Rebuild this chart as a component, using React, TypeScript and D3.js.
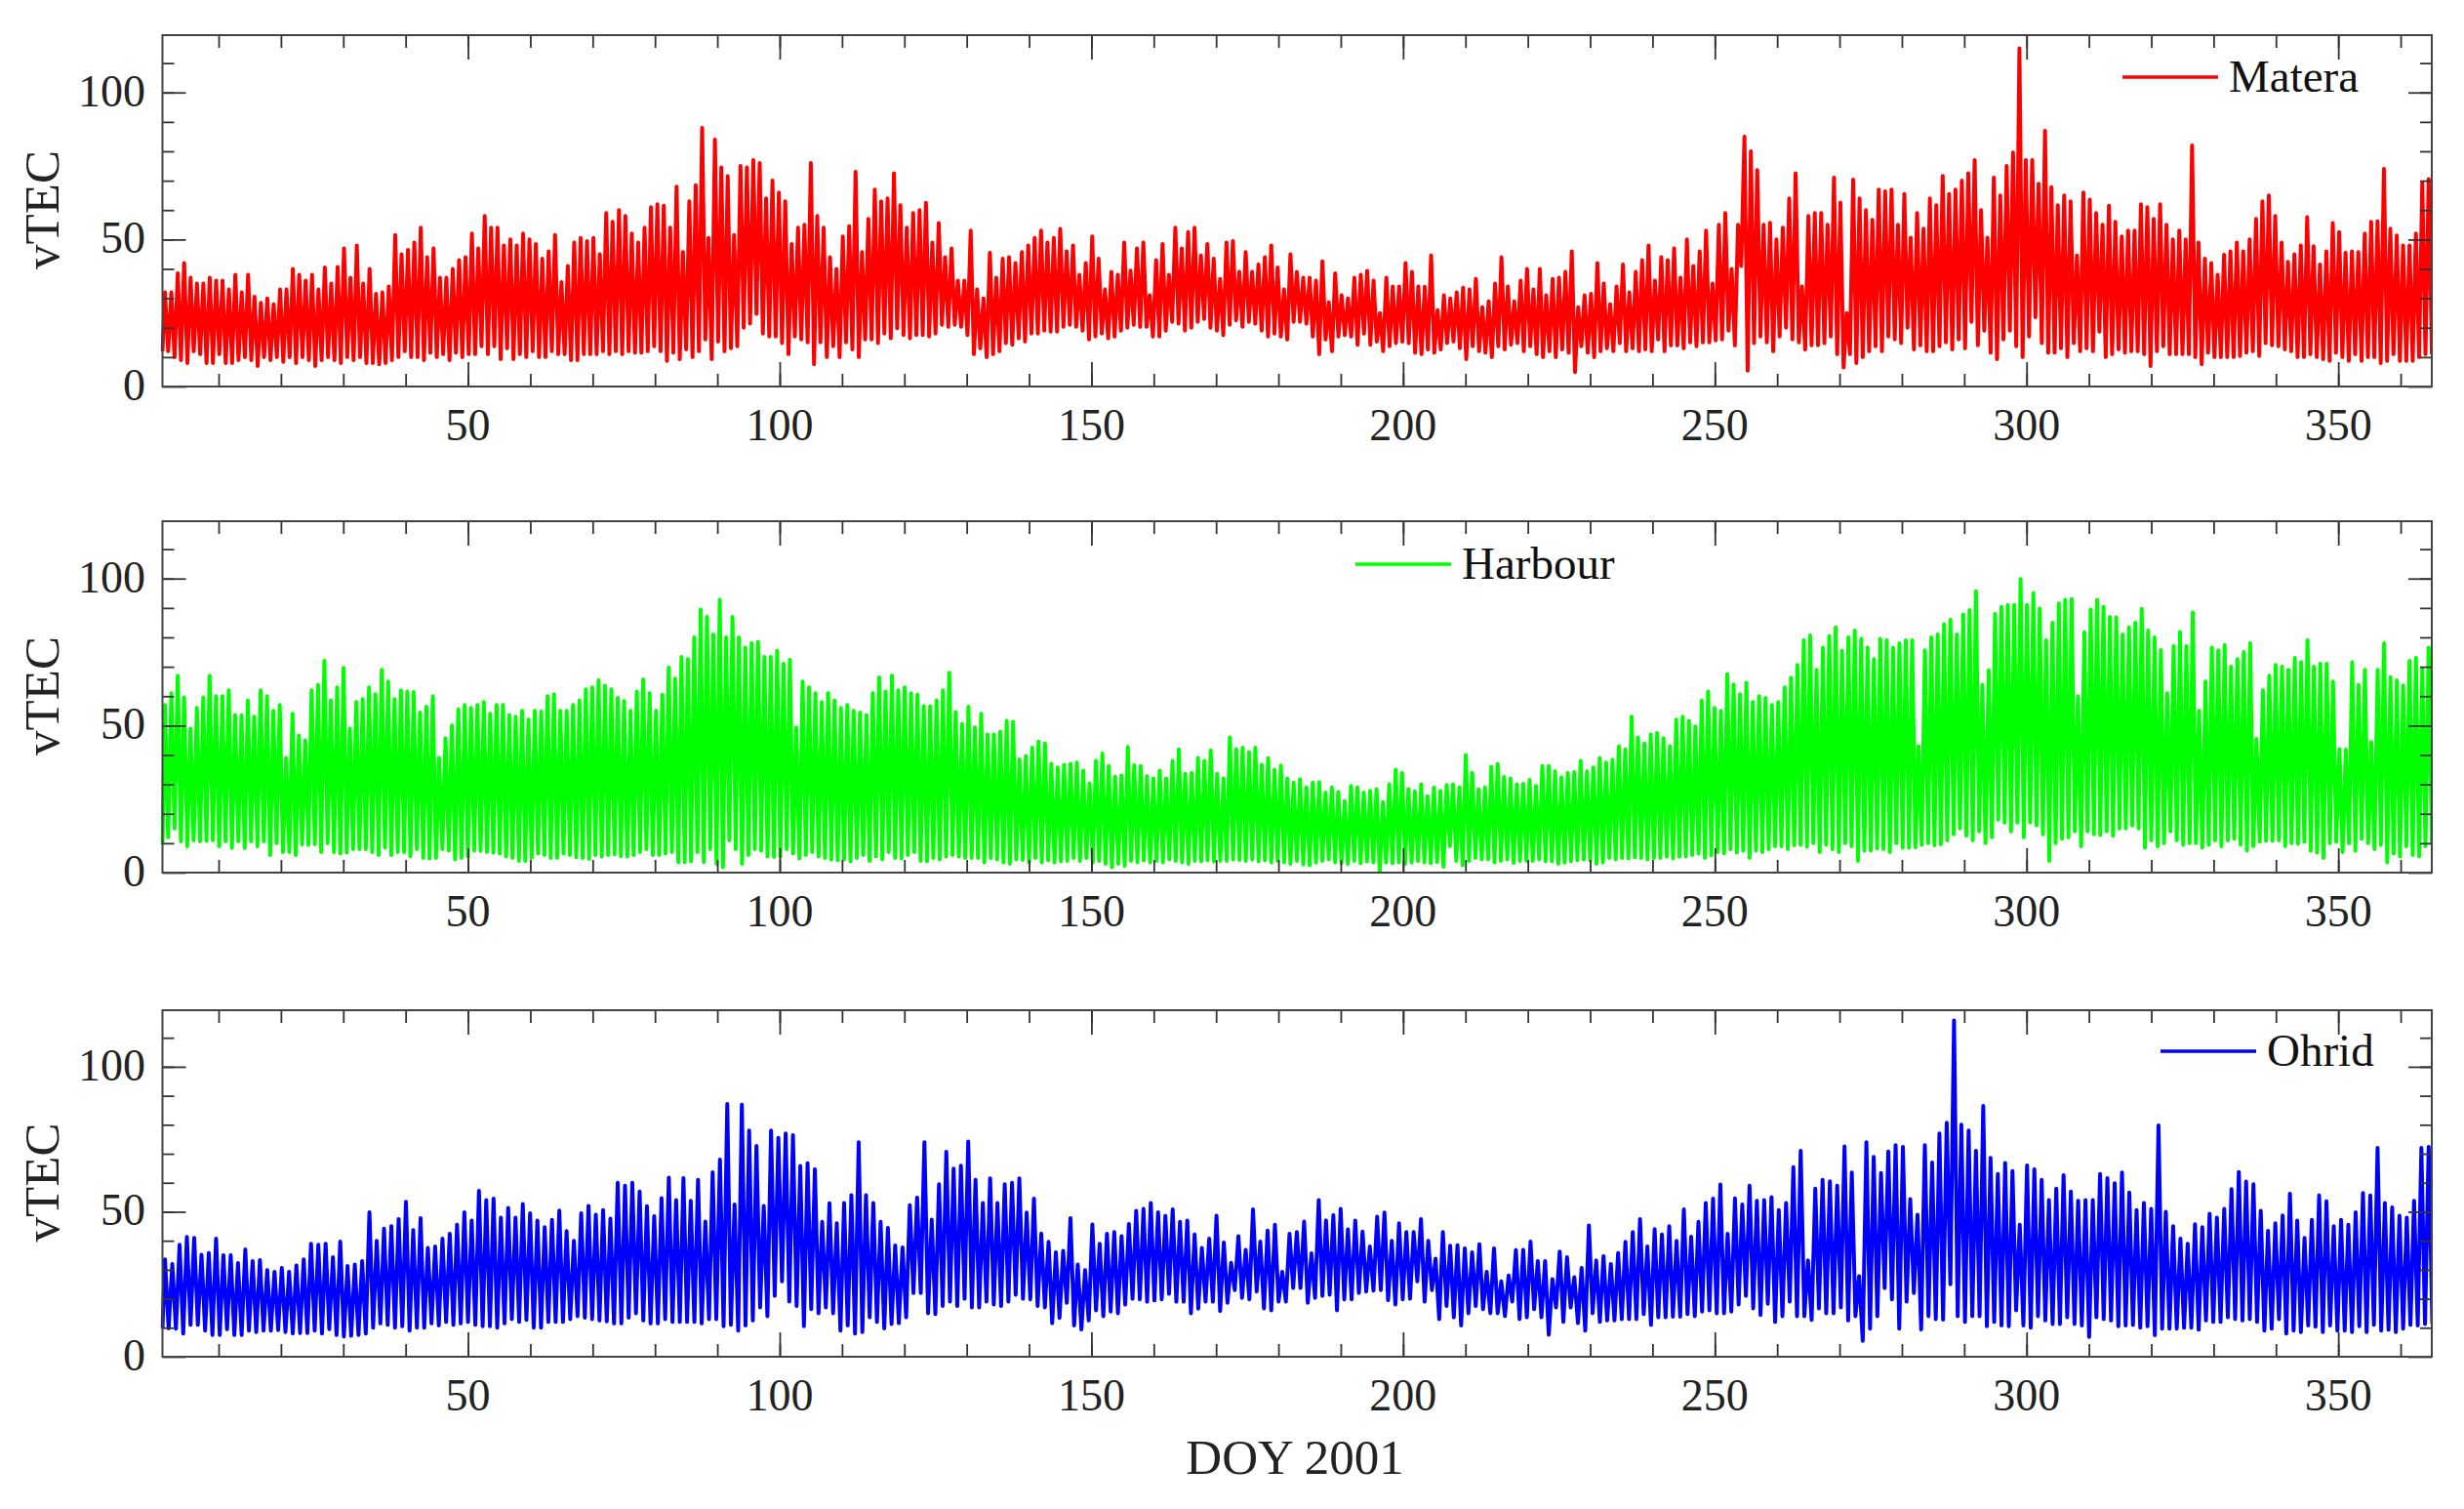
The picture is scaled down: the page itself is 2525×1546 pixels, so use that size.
import * as React from "react";
import * as d3 from "d3";

// daily maxima / minima, in time order
const materaPeaks = [
  32,32,38.5,42,37,35,35,37,36,36,33,38,32,38,30.5,28.5,30,28,33,33,40,38,36,38,33,40.5,35,40.7,47,37,48,35,40,31.5,32,34,51.5,45,46.5,49,54,44,47,37,37,40,43,44,52,47,58,54,54,48,50,48,52,50,48.5,43.5,46,51.5,35.5,41,49,50.5,49.5,50.5,45,59,56,60,58,52,49,54,61,62,61.5,54,68,45.7,63,68.5,88,50.5,84,74.5,71.5,51.5,75,74.5,77,76,64,70,66,63,48.5,54,55,76,58,54,44,40,
  51,54.5,73,45.7,57,67,63,64,72.5,61.7,54,59,60,62.5,49,55.6,44,47,36,36,53,33,30,45.5,37,43.5,44,42,45.7,48,50.5,53,49,50.5,53.6,46,48,38,42,51,43.5,33,39,38,49,39.4,47,49,31,43,48.5,38,54,47,52.5,54,44.6,48.5,43.5,36.6,49,49.5,39,45.7,39,41.5,44,48,40.5,33,45,39,37,37,36,42.6,28.6,38.5,31,30,37,38,39.3,36,25,37,34,34,42,39,34,33.9,44.6,26,31,30,32,33.6,33,36.6,27,29,35,44,34,29,36,40,33,40,31,36.6,37,39,46,27,31,31.5,42,35,28,34,41.5,32,39,43,
  48,36,44,43,47,37,50,41,46,53,35,55,59,40,55,85,80,73.6,55,55.7,50,54,64,72.5,34,58,59,59,55,71,62.6,25,70.4,64,60,56.7,67,66.4,67,55,65.5,50.6,59,53.7,64,61.7,71.6,65.5,67,70,72.5,77,60,50.6,71,65,75,79.6,115,77,77,69,87,67.8,61.7,65,63,44.6,66,63.6,59,55,61.5,56,51,53,53,62,61,57,62,55,50,53,50,82,49,43.5,42,38,44.8,46,49,46,50,57,63,65,58,49,42.4,45,48,57.6,47.7,41.5,46,55.6,52.5,45.5,46,45.7,52,56,56.2,74,53.7,51.4,48,48,52,69.4,70.5,
];
const materaLows = [
  12,10,9,8,12,11,8,8,11,8,8,9,10,9,7,10,9,10,8.4,10,8,10,9,7,9,10,9,8,10,9,10,8,8,7.6,8,9,10,12,10,10,9,11.5,10,11,9,11.5,10,11,11,13.7,11,13.7,9.3,13,9.3,11,10,12,10,12,11,11,9,9,11,11,11,12,11,12,11,12,11.5,11.5,12,13.7,12,8.7,11.5,9.3,12.6,10,12,16,9.3,15.3,12,13,13.7,20,21.4,24.7,18,17,17,14.8,11,17,16,15,7.6,15,10,13.7,10,15,12.6,
  10,16,16,14.8,18,16.4,19.8,17.5,16.4,17.5,17,18,21,20.3,21,20.3,17.5,11,13,10,11,12,14.8,14.2,16.4,15.3,18,18,19,18.7,18.7,20.3,21,20.3,19,16,17,18,16.4,17,19,20,21,20.3,20.3,17,17,19,22,21.4,19,20,22,23,20,19,17.5,21,22.5,20.3,22,21.4,19,17,18,17,16,22,21.4,17,11,16,12,17,17.5,17,14.2,18,14.2,15.3,12,13.7,14.8,15.3,14.8,11.5,11,12.6,11.5,12.6,14.8,15.3,13,9.3,13.7,12,11.5,10,13.7,12.6,14.2,14.8,12,13.7,11,10,12,10,12.6,11.5,4.9,13.7,11.5,10,12,13,12,14.8,12,
  13,12,12.6,12,16,12,14,13,15,13.7,15,15,15.7,16,19,14,41,5.4,14.8,17,15,12,17,20,16,15,12.6,14,14,14.8,17,11,6.5,11,8,10,12,13.7,12,17,16,14.8,20,12.6,14,12,12,13.7,15,12.6,16,13,22,14,19,11.5,9.3,16,19,13.7,10,17,23.6,14.8,11.5,13,10,14.8,12,13,12,18.7,10,11,12.6,11.5,12,12,11,7,12,13.7,11,11,11,11,10,7.6,11.5,10,10,10,10,10.4,11.5,12,10.4,14.8,14,13.7,12.6,12,10,10,11,10,9.3,8.7,11.5,10,8.7,11,8.7,10,10,8,8.7,11,8.7,8.7,8.7,10,11,
];

const harbourPeaks = [
  57,61,67,59.6,49,56,59.6,67,60,60,62,53.6,53.5,58.5,53,62,60,55,57,39,54,46.6,45,62,63.8,72,58.6,63,69.6,49,58,59,63,60.7,69,65,59,62,61.6,61.4,54.4,56.4,60,39,45.7,50,55.5,57,56,57,58,54,57,57,53.6,53,55,52,55,54.8,60,60.7,55,55,57,58.5,62.3,63,65.4,63.6,62.3,59.4,58.3,55,61.6,65.7,61,55,60.5,69.7,66,73.4,72.6,80,89.5,87,81,92.8,80,87,80,76.5,78,78.5,73.4,73.4,75.4,71,72.4,49.4,65,63,61,58,
  61,58.5,56,57,55,54.4,53.6,61,66.4,61.6,67,62,63,61,60.5,56.6,56.6,58.6,62,68,54.6,50.5,56.4,49.4,54,47,47,48,51.6,51.3,38.5,39.6,42.5,44.6,43.9,37,35.8,36.7,37,37.4,34.7,30.3,38,40.5,36.3,32.6,33,42.7,36.5,36.3,32.8,32,34.7,32,38,41.9,33.6,33.9,39,38,41.6,33.6,32,46,42,42.5,41,42.5,36.7,38.9,35,36.4,32,30.6,31.7,29,30.6,30.8,27.2,29,27.5,24.3,29.5,29,27.2,27.8,28.4,24,30,35,33.9,28.4,27.6,30,26,29,27.8,29.8,30,29,40,33.9,28.4,29,36,36.9,32.5,32,30,30.2,31.5,29.5,36.3,36.3,34.4,32.4,33.9,34.2,38,34.4,35.8,38.9,37.4,38.3,43,41.9,53,46,43.9,47,47.5,
  45.7,43,52,53,51.6,49.7,58.5,61.6,56,55,67.5,64,60.7,64.6,58,60,59.4,57,58,63,66.3,70.6,79,80.7,69,76.5,80.4,83.4,75.4,80,82.3,79.5,76.5,72.6,79.5,79,76.5,78,79,79,43,75.6,80,81,84.5,86,81,87.8,89.3,95.7,63.8,68.8,88,90.4,91,91,99.8,91,95,89.8,79,85,91.5,92.8,93,60,81.7,89.5,92.8,90.4,87,86.8,81,83.4,85,89.7,82.3,80,75.7,61,77,81.8,77,88.5,55,65,76.5,75.6,77.4,70,72.6,75,78,45.5,62,67,70.6,70,69,73,71.5,79,70,71,71,65,42,41.8,71.5,63.8,69,44.4,69,78,66.5,65.4,63.6,72,73,69.3,76.5,
];
const harbourLows = [
  9.5,12,15,10.6,9,11,10.6,10.8,11,9,10.6,8.4,10.6,8.4,10.6,9,10.6,6,10,7,7,6,9.6,9.4,9.6,7,10,7,6.5,6.8,8,8,8,7,6,8.5,6,7,7,5.6,3.4,8,5,4.8,5,8,7.5,4.5,5,5.5,7.5,7.4,7,6.8,6.5,5.5,5,4,4,5,6.5,6,5,5,6.5,6,5.2,5,4.7,6,5.5,6,6.2,5.6,5.5,6,7,8,6,6,6.5,6.3,7,3.5,3.6,3.8,7,3.6,8,3,1.8,11,8,3,6,8,7.5,5.5,5.3,5.5,8,6.5,4.8,6,7,5.5,5,4.5,4.2,4.5,
  3.8,5,6,4,5.5,4.5,7,5,4.8,6,7,5.5,4,3.8,5,4.5,5.5,6,5.5,5,5,5,3.5,5,4.5,3.5,3,4.5,4.3,3.5,5,3.5,4.2,3.5,3.8,4,5,4,5,3.5,4,3,1.8,3,2.3,4,3.5,4.2,3.5,4,3.5,4.5,4,4,3.5,3,4,3.8,4.2,3.8,4,4,4.5,4.3,4,4.5,3.8,4.2,3.5,4,3.5,3,4,2.8,2.5,3.4,4,4.5,3.5,3.2,3,4,3.2,3.8,3.5,0.2,3.5,3.2,3.5,3,
  3.4,4,3.5,3.5,3.2,3.6,2,9,4,2.5,4,5,4.5,4.5,3.5,4,4.5,3.3,4,4,4,4.5,3.8,3.8,3,3.4,3.8,4.2,4.5,4.2,3,3.5,5,4.5,5,4.8,5.2,5,4.5,5,5,5.5,4.8,5,5.4,5.5,6,6.5,5,5.8,7,6.5,8,6.8,7.5,5,7.5,7,8,9,9,8,9.3,9.5,8.8,10,7,9.5,8,7,10,9,4,7.5,7.5,8.2,8,7,10,8.5,8.5,8.6,9.5,9.2,10,9.3,9.6,11,13,15,12.5,11,14,10,12,18,17,14,17,12,
  17,16,13,4,10,11.5,12,14,9,14,13,12.8,14,12.5,15,15,16,15,8.5,11,9,10,14,11,8.5,9.5,10,10,8.5,9.5,11,9,11,11.5,9.5,7.5,9,10.5,10.8,10.8,11,9,10,9.8,10.5,7.5,6.8,5,10,10.5,7,10,7.5,11.5,10,8,9.5,3.5,6.5,5.5,9,6,5.5,9,9.5,
];

const ohridPeaks = [
  33.6,32,38.6,41.3,41,35.2,35.8,40.7,35,35,32.3,37,33,33.3,29.9,29.3,30.6,29.3,31.5,33.6,39,38.6,39,34.3,39.7,31.3,31.8,33,49.8,40,44.2,45,47.5,53.4,43.7,47.8,37.5,38,40.7,42.4,45.5,49.8,47,57.2,54,54.5,48,51.3,48,52.7,49.5,47,44.7,47.2,50.4,43.3,40,49.5,52,49,50.6,47.6,60,59,60,57,51.9,48.5,54.7,61.8,54,61.6,53.8,61,46.6,63.6,68,87.2,52.5,86.9,78,72.7,52,78,75.5,77,76.4,65.8,66.7,64.6,46.5,52.9,
  46,53,55.7,74,55.7,53,46.5,44.4,38.4,37.7,52.3,54.9,74,47.3,59.5,70.7,64.9,65.9,74.2,61,53,61.5,53,59.5,60,61.5,49.7,54.5,42.5,39.6,36,36.5,47.8,31.8,29.9,45.6,39,42.4,43,41.6,45.8,50.3,51,53,49.8,48.6,50.8,46.5,47,42.2,37.5,40.7,48.6,39.4,32.4,41.6,36.9,50.8,39.7,43.5,45.5,29.3,42.4,43,46.6,35.7,54,47,48.8,51,43.9,47,43.2,38,48.3,49.7,40,46,43,43,47.5,40,33.8,43,38.3,38.5,37.4,36,38.8,29.3,37.4,26,28,36.8,36.9,39.7,33,33,26.8,36.3,34.3,27.4,30.6,45.3,33.2,34.7,32,35.8,39.6,43,47.5,38,
  44,42.2,45,40,50.8,41.4,46.5,53,54.5,59.4,42.4,54.6,52.5,59,53.8,54,55,50.6,53,65.4,71,33.2,58,61,60.5,59,72.5,63.5,27.8,74,68.9,63.4,70.8,73,72.4,54.4,49,73,67,77,80.7,116,80,78,71,86.5,68.6,63,66.8,64,45.5,66,64.6,61,54,58,62.6,57,53.8,54,54,63,61.6,59.8,63.5,56.6,50.6,53,51,79.8,50,45,40.7,39,45.7,44.7,49.3,48,51,57.8,63.7,60.4,59.5,50.3,43.4,46,48.7,56.2,47,41,47.2,55.6,53.6,45,47.2,45.5,49.8,56.5,55.6,72,53,51.5,48.6,48,53.8,72,72.4,
];
const ohridLows = [
  9.8,9.7,8,11,11,9,7.5,7.5,9.5,7.5,7.5,9,8.5,9,9,9.2,8.5,8,8.2,8.2,9,8,9.5,7.5,7,7.2,7.5,8,10,11.5,11,10,10.5,9,10,10,11.5,10.8,12,11,11.5,12,11,10.5,10.5,10,11.5,13,12,12.7,10,12,12,12,13,14,13.5,13,12.5,12.2,11.5,11.5,13.5,15,12.5,11.5,11.5,13,12,12,12,12,11.5,13,13,10.5,11,9,10.8,12.5,17,14,21,26,19,17.5,10.5,16.4,15,
  17,15,9,10.8,8,8.5,13.6,12,9.8,11.3,11.6,13.6,22,15,14.7,17.5,19,17.5,20,17,17,19,18,17.5,19,21.4,20,19.8,17.5,17,11.6,13.4,18.6,10.8,9.4,12.5,16,14,15.6,15,18,20,19.8,19,19.4,19.8,21.7,19,19,15,16.6,19,19,15.8,18.6,23,20.3,19.8,22.5,16.7,16,19,19,23.7,18.6,20.3,21,21.4,16,19.8,19.8,22,22.5,22.8,23,19.5,18,19.8,20,26,19,23,13,17.5,13.6,10.8,15,17.5,16.4,15,15,14,19,13,13.6,16.4,13.6,7.6,17,12,17,11.6,9,15,12,12.5,12.5,13,13,
  13,14.7,11,13.6,13.6,13.8,14.7,14,15.6,16,15,15,15.6,18,21,16.7,14.4,18.3,12,14,19,14,14,12.7,16.7,15,15,17,12.5,14,5.5,9.7,14,23.7,19.8,9.7,19,22,9.4,14,13,12.8,25,14,12,14,14,10.5,12,10.8,10.5,16,10.8,10,14,12.5,11.3,13.6,11.3,10.8,6.8,13.6,13,12.5,10.5,10.8,11,10,10.5,7.4,9.7,9.7,9.7,10,10,9.3,12.5,12,12,13.6,13,12.5,13,12,9,9.7,13,8,9,8.5,10.8,10.4,8.5,10.8,9,9,8.5,10.5,8.5,11,9,9.3,8.5,9.7,11,10.8,11.3,
];

const stations = [
  { name: "Matera", color: "#ff0000", peaks: materaPeaks, lows: materaLows, top: 36, bottom: 396, legendLine: [2175, 2273], legendY: 79 },
  { name: "Harbour", color: "#00ff00", peaks: harbourPeaks, lows: harbourLows, top: 534, bottom: 894, legendLine: [1389, 1487], legendY: 578 },
  { name: "Ohrid", color: "#0000ff", peaks: ohridPeaks, lows: ohridLows, top: 1035, bottom: 1390, legendLine: [2214, 2312], legendY: 1077 },
];

const xMajor = [50, 100, 150, 200, 250, 300, 350];
const xMinor = d3.range(10, 365, 10);
const yMajor = [0, 50, 100];
const yMinor = d3.range(10, 120, 10);

const WIDTH = 2525;
const HEIGHT = 1546;
const LEFT = 166.5;
const RIGHT = 2492;
const serif = "'Liberation Serif', 'Times New Roman', serif";

export default function App() {
  const ref = React.useRef<SVGSVGElement | null>(null);

  React.useEffect(() => {
    const svg = d3.select(ref.current);
    svg.selectAll("*").remove();
    const xScale = d3.scaleLinear([1, 365], [LEFT, RIGHT]);

    stations.forEach((s, idx) => {
      const yScale = d3.scaleLinear([0, 119.5], [s.bottom, s.top]);
      const g = svg.append("g");

      const clipId = `clip-${s.name}`;
      g.append("clipPath")
        .attr("id", clipId)
        .append("rect")
        .attr("x", LEFT - 2)
        .attr("y", s.top)
        .attr("width", RIGHT - LEFT + 2)
        .attr("height", s.bottom - s.top);

      // peak n sits at an even step through the year, one low between peaks
      const peakDoy = d3.scaleLinear([0, s.peaks.length - 1], [1.4, 364.5]);
      const points: [number, number][] = [[1, s.lows[0]]];
      s.peaks.forEach((v, i) => {
        points.push([peakDoy(i), v]);
        const lowIdx = Math.min(
          s.lows.length - 1,
          Math.floor(((i + 1) * s.lows.length) / s.peaks.length)
        );
        points.push([peakDoy(i + 0.5), s.lows[lowIdx]]);
      });

      const line = d3
        .line<[number, number]>()
        .x((d) => xScale(d[0]))
        .y((d) => yScale(d[1]));

      g.append("path")
        .attr("d", line(points))
        .attr("fill", "none")
        .attr("stroke", s.color)
        .attr("stroke-width", 4)
        .attr("stroke-linejoin", "round")
        .attr("clip-path", `url(#${clipId})`);

      // ticks point inwards on all four sides
      const tickAxis = (axis: d3.Axis<d3.NumberValue>, values: number[], size: number, tx: number, ty: number) => {
        const a = g
          .append("g")
          .attr("transform", `translate(${tx},${ty})`)
          .call(axis.tickValues(values).tickSize(size).tickFormat(() => ""));
        a.select(".domain").remove();
        a.selectAll("line").attr("stroke", "#333").attr("stroke-width", 1.8);
      };
      tickAxis(d3.axisTop(xScale), xMinor, 13, 0, s.bottom);
      tickAxis(d3.axisTop(xScale), xMajor, 25, 0, s.bottom);
      tickAxis(d3.axisBottom(xScale), xMinor, 13, 0, s.top);
      tickAxis(d3.axisBottom(xScale), xMajor, 25, 0, s.top);
      tickAxis(d3.axisRight(yScale), yMinor, 12, LEFT, 0);
      tickAxis(d3.axisRight(yScale), yMajor, 24, LEFT, 0);
      tickAxis(d3.axisLeft(yScale), yMinor, 12, RIGHT, 0);
      tickAxis(d3.axisLeft(yScale), yMajor, 24, RIGHT, 0);

      g.append("rect")
        .attr("x", LEFT)
        .attr("y", s.top)
        .attr("width", RIGHT - LEFT)
        .attr("height", s.bottom - s.top)
        .attr("fill", "none")
        .attr("stroke", "#444")
        .attr("stroke-width", 2);

      // tick labels
      g.selectAll(".xlab")
        .data(xMajor)
        .enter()
        .append("text")
        .attr("x", (d) => xScale(d))
        .attr("y", s.bottom + 55)
        .attr("text-anchor", "middle")
        .attr("font-family", serif)
        .attr("font-size", 46)
        .attr("fill", "#222")
        .text((d) => d);

      g.selectAll(".ylab")
        .data(yMajor)
        .enter()
        .append("text")
        .attr("x", 149)
        .attr("y", (d) => yScale(d) + 14)
        .attr("text-anchor", "end")
        .attr("font-family", serif)
        .attr("font-size", 46)
        .attr("fill", "#222")
        .text((d) => d);

      g.append("text")
        .attr("transform", `translate(60,${(s.top + s.bottom) / 2 - 1}) rotate(-90)`)
        .attr("text-anchor", "middle")
        .attr("font-family", serif)
        .attr("font-size", 51)
        .attr("fill", "#222")
        .text("vTEC");

      // legend
      g.append("line")
        .attr("x1", s.legendLine[0])
        .attr("x2", s.legendLine[1])
        .attr("y1", s.legendY)
        .attr("y2", s.legendY)
        .attr("stroke", s.color)
        .attr("stroke-width", 3.4);
      g.append("text")
        .attr("x", s.legendLine[1] + 11)
        .attr("y", s.legendY + 15)
        .attr("font-family", serif)
        .attr("font-size", 47)
        .attr("fill", "#111")
        .text(s.name);

      if (idx === stations.length - 1) {
        g.append("text")
          .attr("x", 1327)
          .attr("y", 1510)
          .attr("text-anchor", "middle")
          .attr("font-family", serif)
          .attr("font-size", 51)
          .attr("fill", "#222")
          .text("DOY 2001");
      }
    });
  }, []);

  return (
    <svg
      ref={ref}
      width={WIDTH}
      height={HEIGHT}
      viewBox={`0 0 ${WIDTH} ${HEIGHT}`}
      style={{ position: "absolute", left: 0, top: 0, background: "#fff" }}
    />
  );
}
